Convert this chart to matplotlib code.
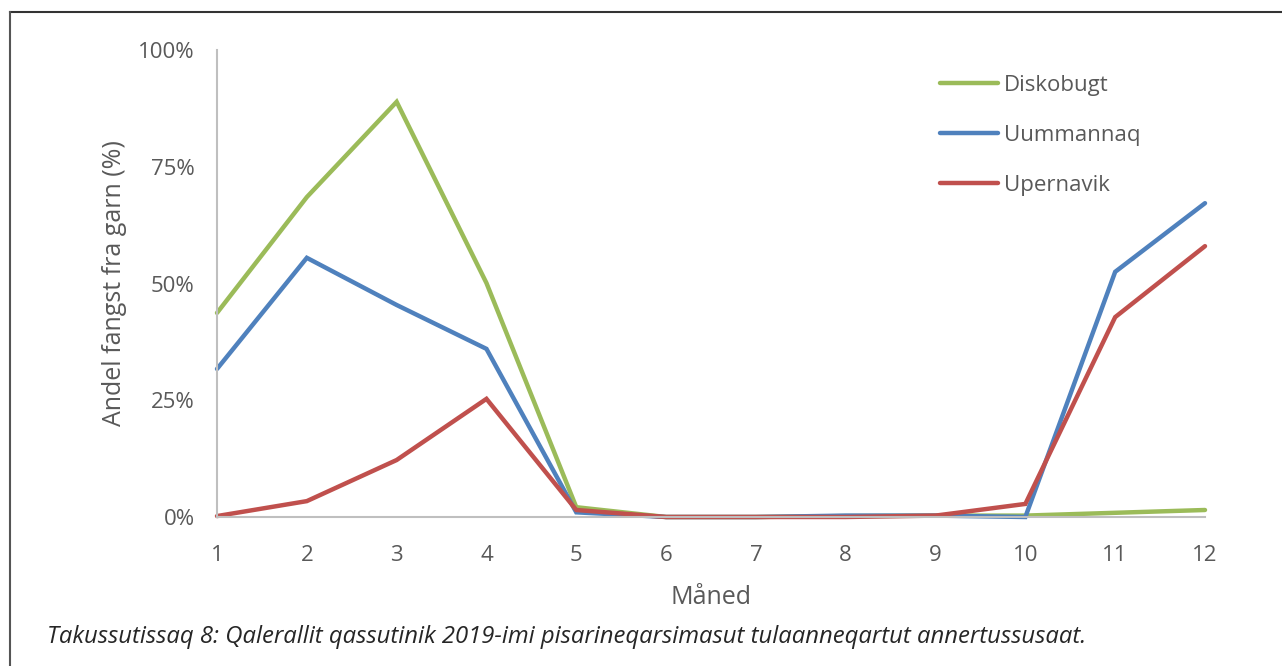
import numpy as np
import matplotlib.pyplot as plt
from matplotlib.lines import Line2D

# ---- data ----
months = [1, 2, 3, 4, 5, 6, 7, 8, 9, 10, 11, 12]
diskobugt = [43.7, 68.5, 88.9, 50.1, 2.1, 0.0, 0.0, 0.2, 0.3, 0.3, 0.9, 1.5]
uummannaq = [31.7, 55.5, 45.4, 36.0, 1.0, 0.0, 0.0, 0.3, 0.3, 0.0, 52.5, 67.2]
upernavik = [0.2, 3.4, 12.2, 25.3, 1.5, 0.0, 0.0, 0.0, 0.3, 2.8, 42.8, 58.0]
series_names = ["Diskobugt", "Uummannaq", "Upernavik"]
y_ticks = [0, 25, 50, 75, 100]

colors = ["#9BBB59", "#4F81BD", "#C0504D"]
txt = "#595959"

plt.rcParams['font.family'] = ['Open Sans', 'DejaVu Sans']

fig = plt.figure(figsize=(12.82, 6.66), dpi=100)
ax = fig.add_axes([217/1282, 1-517/666, (1205-217)/1282, (517-50)/666])

for vals, c in zip([diskobugt, uummannaq, upernavik], colors):
    ax.plot(months, vals, color=c, lw=3.2, solid_capstyle='round', solid_joinstyle='miter', clip_on=False)

ax.set_xlim(1, 12)
ax.set_ylim(0, 100)
ax.set_xticks(months)
ax.set_yticks(y_ticks)
ax.set_yticklabels([f"{v}%" for v in y_ticks])
ax.tick_params(length=0, labelsize=16, colors=txt)
ax.tick_params(axis='x', pad=20)
ax.tick_params(axis='y', pad=16)
for s in ['top', 'right']:
    ax.spines[s].set_visible(False)
for s in ['left', 'bottom']:
    ax.spines[s].set_color("#BFBFBF")
    ax.spines[s].set_linewidth(1.5)
ax.set_ylabel("Andel fangst fra garn (%)", fontsize=18, color=txt, labelpad=8)
ax.set_xlabel("Måned", fontsize=18, color=txt, labelpad=14)

handles = [Line2D([0], [0], color=c, lw=3.2, solid_capstyle='round') for c in colors]
leg = ax.legend(handles, series_names, loc='upper left', bbox_to_anchor=((931-217)/988, 1-(66-50)/467),
                frameon=False, fontsize=16, labelcolor=txt, handlelength=2.6, handletextpad=0.3,
                labelspacing=1.3, borderaxespad=0)

fig.text(47/1282, 1-637/666, "Takussutissaq 8: Qalerallit qassutinik 2019-imi pisarineqarsimasut tulaanneqartut annertussusaat.",
         fontsize=17.2, style='italic', color="#262626", va='center', ha='left')

# frame lines (top and left only)
fig.add_artist(Line2D([9.5/1282, 1], [1-11.5/666, 1-11.5/666], color="#333333", lw=1.5, transform=fig.transFigure))
fig.add_artist(Line2D([9.5/1282, 9.5/1282], [0, 1-11.5/666], color="#555555", lw=1.5, transform=fig.transFigure))

fig.savefig("out.png", dpi=100)
